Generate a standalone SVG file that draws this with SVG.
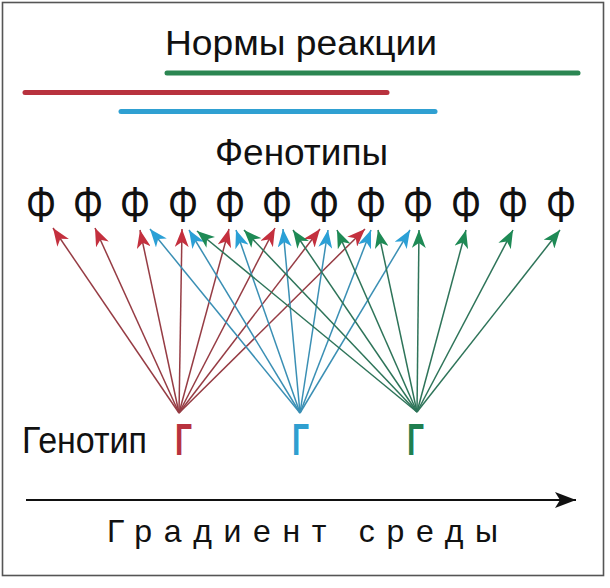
<svg xmlns="http://www.w3.org/2000/svg" width="610" height="588" viewBox="0 0 610 588">
<defs>
<style>
.lbl{font-family:"Liberation Sans",Arial,sans-serif;fill:#111}
.phi{font-family:"Liberation Sans",Arial,sans-serif;font-size:50px;fill:#111;text-anchor:middle}
.gam{font-family:"Liberation Sans",Arial,sans-serif;font-size:44px;font-weight:bold}
.r{stroke:#963c44;stroke-width:1.5;fill:none}
.b{stroke:#3a8fb4;stroke-width:1.5;fill:none}
.g{stroke:#2e7459;stroke-width:1.5;fill:none}
.r{marker-end:url(#mr)}
.b{marker-end:url(#mb)}
.g{marker-end:url(#mg)}
</style>
<marker id="mr" markerUnits="userSpaceOnUse" markerWidth="19" markerHeight="14" refX="18" refY="7" orient="auto"><path d="M0,0 L18,7 L0,14 L5,7 Z" fill="#c4303e"/></marker>
<marker id="mb" markerUnits="userSpaceOnUse" markerWidth="19" markerHeight="14" refX="18" refY="7" orient="auto"><path d="M0,0 L18,7 L0,14 L5,7 Z" fill="#2ba0d6"/></marker>
<marker id="mg" markerUnits="userSpaceOnUse" markerWidth="19" markerHeight="14" refX="18" refY="7" orient="auto"><path d="M0,0 L18,7 L0,14 L5,7 Z" fill="#1e8a55"/></marker>
<marker id="ma" markerUnits="userSpaceOnUse" markerWidth="22" markerHeight="18" refX="21" refY="8" orient="auto"><path d="M0,0 L21,8 L0,16 L5,8 Z" fill="#111"/></marker>
</defs>
<rect x="0" y="0" width="610" height="588" fill="#fff"/>
<rect x="2.5" y="2.5" width="601" height="573" fill="none" stroke="#555" stroke-width="1.6"/>

<g id="title-norms">
<text class="lbl" x="165" y="55" font-size="35" textLength="272" lengthAdjust="spacingAndGlyphs">Нормы реакции</text>
</g>
<g id="norm-bars">
<line x1="167" y1="73" x2="578" y2="73" stroke="#2b8652" stroke-width="5" stroke-linecap="round"/>
<line x1="25" y1="92.5" x2="387" y2="92.5" stroke="#b8323e" stroke-width="5" stroke-linecap="round"/>
<line x1="121" y1="111.5" x2="435" y2="111.5" stroke="#2fa0d2" stroke-width="5" stroke-linecap="round"/>
</g>
<g id="title-phenotypes">
<text class="lbl" x="215" y="165" font-size="36" textLength="173" lengthAdjust="spacingAndGlyphs">Фенотипы</text>
</g>

<g id="phenotypes">
<text class="phi" x="41" y="222" textLength="30" lengthAdjust="spacingAndGlyphs">Φ</text>
<text class="phi" x="88" y="222" textLength="30" lengthAdjust="spacingAndGlyphs">Φ</text>
<text class="phi" x="135" y="222" textLength="30" lengthAdjust="spacingAndGlyphs">Φ</text>
<text class="phi" x="183" y="222" textLength="30" lengthAdjust="spacingAndGlyphs">Φ</text>
<text class="phi" x="230" y="222" textLength="30" lengthAdjust="spacingAndGlyphs">Φ</text>
<text class="phi" x="277" y="222" textLength="30" lengthAdjust="spacingAndGlyphs">Φ</text>
<text class="phi" x="324" y="222" textLength="30" lengthAdjust="spacingAndGlyphs">Φ</text>
<text class="phi" x="371" y="222" textLength="30" lengthAdjust="spacingAndGlyphs">Φ</text>
<text class="phi" x="418" y="222" textLength="30" lengthAdjust="spacingAndGlyphs">Φ</text>
<text class="phi" x="466" y="222" textLength="30" lengthAdjust="spacingAndGlyphs">Φ</text>
<text class="phi" x="513" y="222" textLength="30" lengthAdjust="spacingAndGlyphs">Φ</text>
<text class="phi" x="561" y="222" textLength="30" lengthAdjust="spacingAndGlyphs">Φ</text>
</g>

<g id="connectors">
<path class="r" d="M179,413 L53,228"/>
<path class="r" d="M179,413 L95,228"/>
<path class="r" d="M179,413 L140,230"/>
<path class="r" d="M179,413 L182,229"/>
<path class="r" d="M179,413 L229,229"/>
<path class="r" d="M179,413 L275,228"/>
<path class="r" d="M179,413 L320,229"/>
<path class="r" d="M179,413 L365,229"/>
<path class="b" d="M300,413 L150,229"/>
<path class="b" d="M300,413 L189,230"/>
<path class="b" d="M300,413 L236,230"/>
<path class="b" d="M300,413 L283,229"/>
<path class="b" d="M300,413 L328,230"/>
<path class="b" d="M300,413 L371,230"/>
<path class="b" d="M300,413 L410,230"/>
<path class="g" d="M417,412 L197,231"/>
<path class="g" d="M417,412 L244,230"/>
<path class="g" d="M417,412 L293,230"/>
<path class="g" d="M417,412 L337,230"/>
<path class="g" d="M417,412 L378,230"/>
<path class="g" d="M417,412 L419,230"/>
<path class="g" d="M417,412 L466,230"/>
<path class="g" d="M417,412 L513,230"/>
<path class="g" d="M417,412 L560,230"/>
</g>

<g id="genotype-label">
<text class="lbl" x="22" y="453" font-size="37" textLength="125" lengthAdjust="spacingAndGlyphs">Генотип</text>
</g>
<g id="genotype-red">
<text class="gam" x="175" y="455" fill="#b8323e" textLength="17" lengthAdjust="spacingAndGlyphs">Г</text>
</g>
<g id="genotype-blue">
<text class="gam" x="292" y="455" fill="#2f9fd0" textLength="17" lengthAdjust="spacingAndGlyphs">Г</text>
</g>
<g id="genotype-green">
<text class="gam" x="407" y="455" fill="#1f7f50" textLength="17" lengthAdjust="spacingAndGlyphs">Г</text>
</g>

<g id="gradient-axis">
<line x1="26" y1="500" x2="576" y2="500" stroke="#111" stroke-width="1.8" marker-end="url(#ma)"/>
<text class="lbl" x="107" y="542" font-size="32" textLength="391" lengthAdjust="spacing">Градиент среды</text>
</g>
</svg>
